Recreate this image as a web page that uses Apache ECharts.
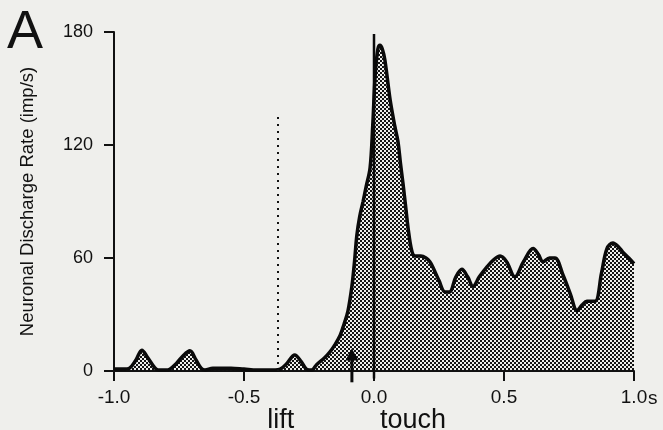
<!DOCTYPE html>
<html>
<head>
<meta charset="utf-8">
<script src="https://cdn.jsdelivr.net/npm/echarts@6/dist/echarts.min.js"></script>
<style>
  html, body { margin: 0; padding: 0; background: #efefec; }
  #chart { width: 663px; height: 430px; }
</style>
</head>
<body>
<div id="chart"></div>
<script>
// time relative to touch (s) and firing rate (imp/s)
var times = [
    -1.0, -0.96, -0.94, -0.915, -0.893, -0.87, -0.845, -0.83, -0.8, -0.785,
    -0.76, -0.735, -0.708, -0.685, -0.665, -0.65, -0.62, -0.55, -0.5, -0.45,
    -0.38, -0.36, -0.335, -0.305, -0.28, -0.26, -0.24, -0.22, -0.19, -0.17,
    -0.15, -0.13, -0.115, -0.1, -0.085, -0.075, -0.066, -0.055, -0.042, -0.03,
    -0.015, -0.005, 0.005, 0.015, 0.023, 0.032, 0.042, 0.062, 0.08, 0.092,
    0.102, 0.112, 0.122, 0.131, 0.145, 0.158, 0.18, 0.2, 0.215, 0.227,
    0.25, 0.273, 0.29, 0.315, 0.338, 0.36, 0.381, 0.405, 0.433, 0.46,
    0.485, 0.51, 0.542, 0.575, 0.612, 0.632, 0.65, 0.675, 0.696, 0.727,
    0.755, 0.781, 0.8, 0.819, 0.85, 0.875, 0.896, 0.919, 0.94, 0.958,
    0.98, 1.0
];
var rates = [
    1, 1, 1.5, 6, 11, 7, 2, 0.5, 0.5, 1,
    4, 8, 10.7, 6, 1.5, 0.5, 1.5, 1.5, 1, 0.5,
    0.5, 1, 4, 8.5, 5, 1, 0.5, 3.5, 7, 10,
    14, 19, 25, 32, 45, 58, 72, 82, 90, 98,
    108, 130, 158, 171, 173, 171, 165, 144, 130, 122,
    110, 99, 87, 76, 64, 61, 61, 60, 58, 55,
    48, 42, 42, 50, 54, 50, 45, 50, 55, 59,
    61, 58, 50, 58, 65, 62, 58, 60, 60, 51,
    41, 32, 35, 37, 37, 52, 65, 68, 66, 63,
    60, 57
];

var xTicks = [-1.0, -0.5, 0.0, 0.5, 1.0];
var yTicks = [0, 60, 120, 180];

// event markers
var liftTime = -0.37;
var touchTime = 0;
var arrowTime = -0.085;

var font = '"Liberation Sans", Arial, sans-serif';

// stippled fill
var tile = document.createElement('canvas');
tile.width = 4;
tile.height = 4;
var tc = tile.getContext('2d');
tc.fillStyle = '#141414';
tc.fillRect(0, 0, 2, 2);
tc.fillRect(2, 2, 2, 2);

var chart = echarts.init(document.getElementById('chart'));

var points = times.map(function (t, i) { return [t, rates[i]]; });

chart.setOption({
    backgroundColor: '#efefec',
    animation: false,
    grid: { left: 114, right: 29, top: 32, bottom: 59 },
    xAxis: {
        type: 'value',
        min: xTicks[0],
        max: xTicks[xTicks.length - 1],
        interval: 0.5,
        axisLine: { onZero: false, lineStyle: { color: '#111', width: 2 } },
        axisTick: { show: true, length: 10, lineStyle: { color: '#111', width: 2 } },
        axisLabel: {
            margin: 17,
            fontFamily: font,
            fontSize: 19,
            color: '#111',
            formatter: function (v) { return v.toFixed(1); }
        },
        splitLine: { show: false }
    },
    yAxis: {
        type: 'value',
        min: yTicks[0],
        max: yTicks[yTicks.length - 1],
        interval: 60,
        name: 'Neuronal Discharge Rate (imp/s)',
        nameLocation: 'middle',
        nameGap: 77,
        nameTextStyle: { fontFamily: font, fontSize: 18.5, color: '#111' },
        axisLine: { show: true, onZero: false, lineStyle: { color: '#111', width: 2 } },
        axisTick: { show: true, length: 10, lineStyle: { color: '#111', width: 2 } },
        axisLabel: { margin: 21, fontFamily: font, fontSize: 18, color: '#111' },
        splitLine: { show: false }
    },
    series: [{
        type: 'line',
        data: points,
        smooth: 0.35,
        showSymbol: false,
        clip: false,
        lineStyle: { color: '#0a0a0a', width: 3.5 },
        areaStyle: { color: { image: tile, repeat: 'repeat' }, opacity: 1 },
        markLine: {
            silent: true,
            symbol: 'none',
            label: { show: false },
            lineStyle: { color: '#111', width: 2, type: [2, 5] },
            data: [[{ coord: [liftTime, 0] }, { coord: [liftTime, 135] }]]
        }
    }]
});

function px(x, y) {
    return chart.convertToPixel({ gridIndex: 0 }, [x, y]);
}

var touchTop = px(touchTime, 179);
var touchBot = px(touchTime, -4);
var arrowTip = px(arrowTime, 12);
var arrowBot = px(arrowTime, -6);
var endTick = px(xTicks[xTicks.length - 1], 0);
var liftPos = px(liftTime, 0);
var touchPos = px(touchTime, 0);

chart.setOption({
    graphic: [
        {
            type: 'line',
            shape: { x1: touchTop[0], y1: touchTop[1], x2: touchBot[0], y2: touchBot[1] },
            style: { stroke: '#0a0a0a', lineWidth: 2.5 },
            z: 10
        },
        {
            type: 'line',
            shape: { x1: arrowTip[0], y1: arrowTip[1] + 8, x2: arrowBot[0], y2: arrowBot[1] },
            style: { stroke: '#0a0a0a', lineWidth: 3 },
            z: 10
        },
        {
            type: 'polygon',
            shape: { points: [[arrowTip[0], arrowTip[1]], [arrowTip[0] - 6.5, arrowTip[1] + 12], [arrowTip[0] + 6.5, arrowTip[1] + 12]] },
            style: { fill: '#0a0a0a' },
            z: 10
        },
        {
            type: 'text',
            left: 7,
            top: 6,
            style: { text: 'A', font: '54px ' + font, fill: '#111' }
        },
        {
            type: 'text',
            x: endTick[0] + 14,
            y: endTick[1] + 18,
            style: { text: 's', font: '19px ' + font, fill: '#111' }
        },
        {
            type: 'text',
            x: liftPos[0] + 3,
            y: liftPos[1] + 36,
            style: { text: 'lift', font: '27px ' + font, fill: '#111', textAlign: 'center' }
        },
        {
            type: 'text',
            x: touchPos[0] + 39,
            y: touchPos[1] + 36,
            style: { text: 'touch', font: '27px ' + font, fill: '#111', textAlign: 'center' }
        }
    ]
});
</script>
</body>
</html>
